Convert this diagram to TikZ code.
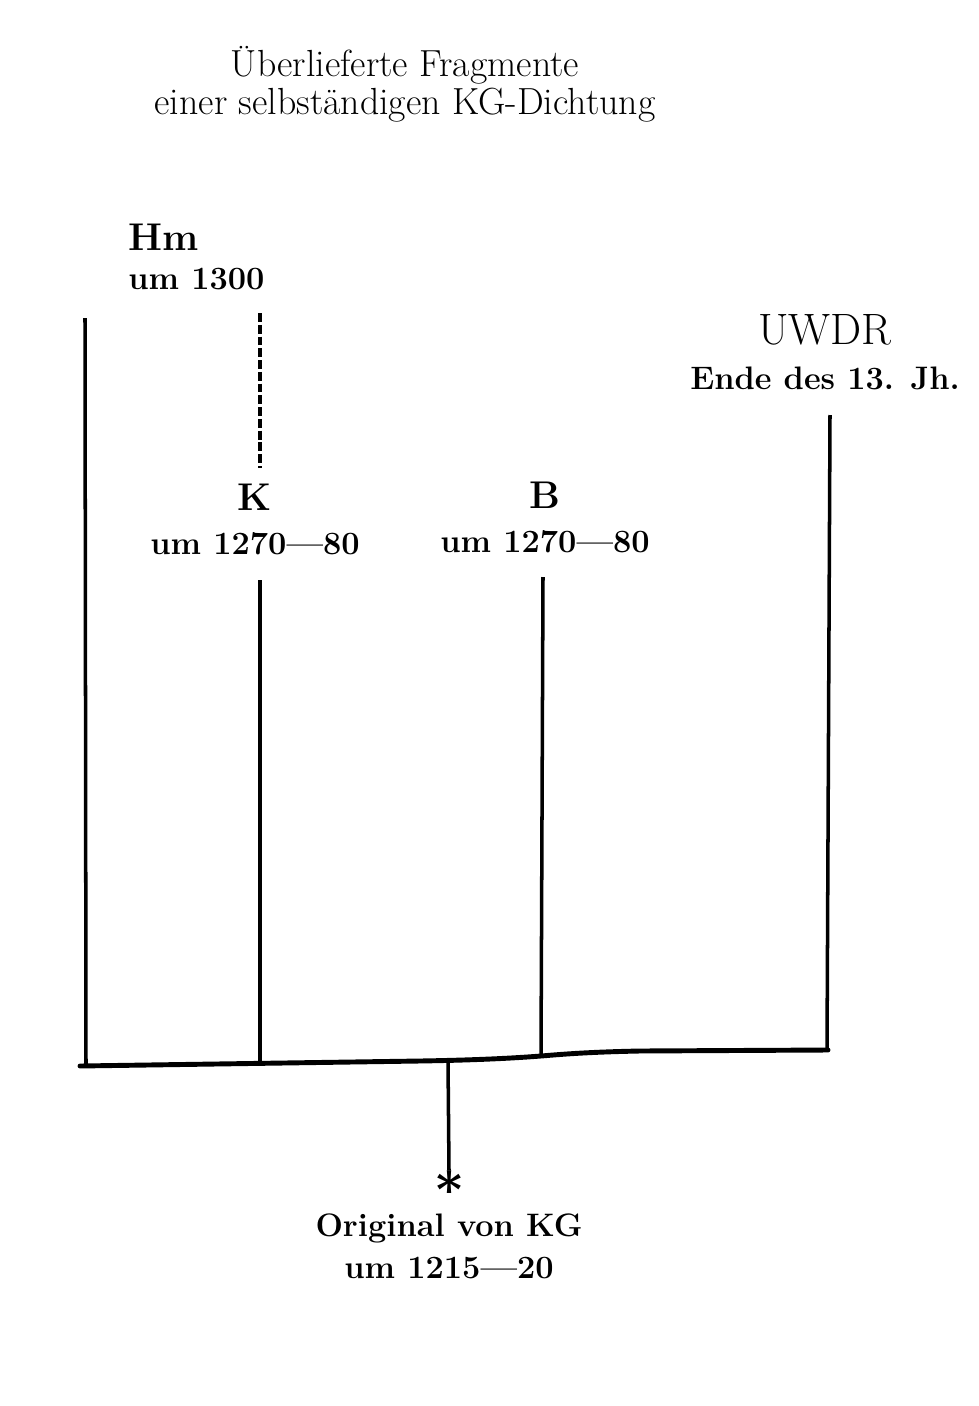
\documentclass[tikz,border=0pt]{standalone}
\usepackage{fontspec}
\newfontfamily\starfont{DejaVu Serif}
\usepackage{tikz}
\usetikzlibrary{positioning}

\begin{document}
\begin{tikzpicture}[
  x=0.02cm, y=-0.02cm,
  node distance=12pt,
  heading/.style={align=center, font=\fontsize{21.5}{21.5}\selectfont},
  siglum/.style={inner sep=0pt, font=\fontsize{22}{26}\selectfont\bfseries},
  bigsiglum/.style={inner sep=0pt, font=\fontsize{25}{30}\selectfont},
  datum/.style={inner sep=0pt, font=\fontsize{18.5}{24}\selectfont\bfseries, align=center},
  star/.style={inner sep=0pt, font=\starfont\bfseries\fontsize{28}{28}\selectfont},
  stem/.style={line width=2pt},
  lost/.style={line width=1.8pt, dash pattern=on 5pt off 1.7pt},
  bar/.style={line width=2.8pt, line join=round, line cap=round}
]
\useasboundingbox (0,0) rectangle (978,1406);

\node[heading] (title) at (405,84) {\"Uberlieferte Fragmente\\einer selbst\"andigen KG-Dichtung};

\node[siglum, anchor=west] (hm) at (128,237) {Hm};
\node[datum, below=10pt of hm.south west, anchor=north west] (hmdate) {um 1300};

\node[siglum] (k) at (255,497) {K};
\node[datum, below=of k] (kdate) {um 1270---80};

\node[siglum] (b) at (545,495) {B};
\node[datum, below=of b] (bdate) {um 1270---80};

\node[bigsiglum] (uwdr) at (825,330) {UWDR};
\node[datum, below=of uwdr] (uwdrdate) {Ende des 13. Jh.};

\node[star] (ast) at (449,1184) {∗};
\node[datum, below=9pt of ast] (orig) {Original von KG\\um 1215---20};

\coordinate (lefttop) at (85,318);
\coordinate (leftfoot) at (86,1065);
\coordinate (hmfoot) at (260,313);
\coordinate (khead) at (260,468);
\coordinate (ktop) at (260,580);
\coordinate (kfoot) at (260,1062);
\coordinate (btop) at (543,577);
\coordinate (bfoot) at (541,1056);
\coordinate (utop) at (830,415);
\coordinate (ufoot) at (827,1050);
\coordinate (barL) at (80,1066);
\coordinate (barR) at (828,1050);
\coordinate (barmid) at (448,1061);

\draw[stem] (lefttop) -- (leftfoot);
\draw[lost] (hmfoot) -- (khead);
\draw[stem] (ktop) -- (kfoot);
\draw[stem] (btop) -- (bfoot);
\draw[stem] (utop) -- (ufoot);
\draw[bar] (barL) -- (420,1061) .. controls (480,1060) and (515,1058) .. (bfoot)
  .. controls (565,1054) and (590,1052) .. (640,1051) -- (barR);
\draw[stem] (barmid) -- (ast.north);

\end{tikzpicture}
\end{document}
